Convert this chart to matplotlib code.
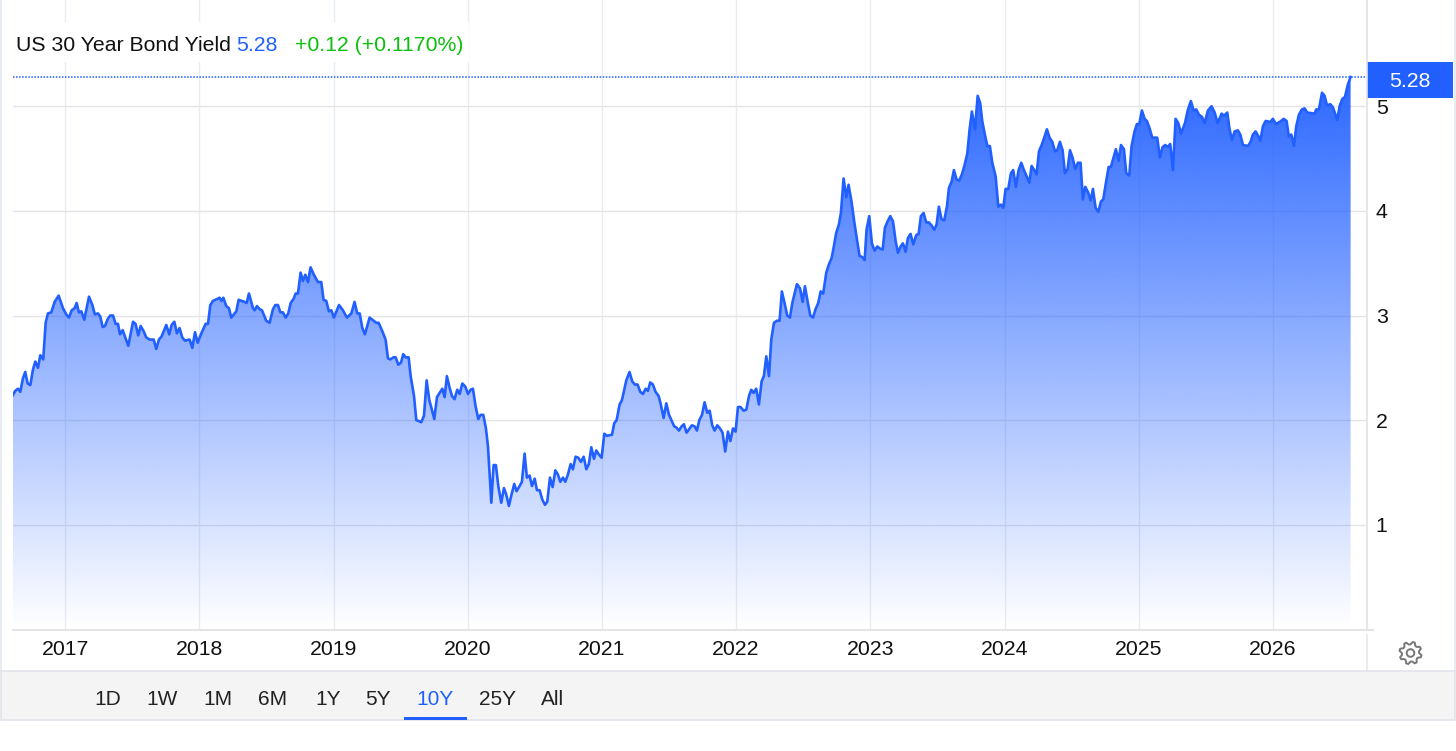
import numpy as np
import matplotlib
matplotlib.use("Agg")
import matplotlib.pyplot as plt
from matplotlib.patches import Polygon, Rectangle, Circle

plt.rcParams["font.family"] = ["Liberation Sans", "DejaVu Sans"]

# (decimal year, yield), split by stretch so it stays readable
dates_2016_2019 = [
    2016.611, 2016.629, 2016.649, 2016.666, 2016.686, 2016.703, 2016.721, 2016.741, 2016.760, 2016.778,
    2016.798, 2016.815, 2016.837, 2016.855, 2016.872, 2016.897, 2016.922, 2016.952, 2016.984, 2017.009,
    2017.029, 2017.049, 2017.071, 2017.086, 2017.103, 2017.121, 2017.143, 2017.178, 2017.203, 2017.222,
    2017.245, 2017.262, 2017.280, 2017.297, 2017.319, 2017.337, 2017.357, 2017.376, 2017.394, 2017.409,
    2017.429, 2017.451, 2017.471, 2017.506, 2017.525, 2017.545, 2017.563, 2017.585, 2017.605, 2017.630,
    2017.660, 2017.679, 2017.699, 2017.719, 2017.754, 2017.776, 2017.794, 2017.814, 2017.833, 2017.853,
    2017.873, 2017.893, 2017.928, 2017.948, 2017.968, 2017.988, 2018.012, 2018.047, 2018.065, 2018.082,
    2018.102, 2018.137, 2018.151, 2018.164, 2018.179, 2018.201, 2018.221, 2018.238, 2018.276, 2018.293,
    2018.338, 2018.353, 2018.370, 2018.400, 2018.412, 2018.430, 2018.450, 2018.467, 2018.499, 2018.524,
    2018.549, 2018.566, 2018.586, 2018.604, 2018.623, 2018.643, 2018.663, 2018.681, 2018.703, 2018.718,
    2018.735, 2018.755, 2018.772, 2018.790, 2018.810, 2018.829, 2018.854, 2018.884, 2018.909, 2018.926,
    2018.946, 2018.966, 2018.984, 2019.003, 2019.041, 2019.070, 2019.100, 2019.133, 2019.157, 2019.177,
    2019.195, 2019.215, 2019.234, 2019.269, 2019.299, 2019.319, 2019.336, 2019.364, 2019.388, 2019.406,
    2019.423, 2019.448, 2019.463, 2019.483, 2019.503, 2019.520, 2019.538, 2019.560, 2019.575, 2019.600,
    2019.617, 2019.637, 2019.654, 2019.674, 2019.694, 2019.714, 2019.731, 2019.751, 2019.771, 2019.791,
    2019.811, 2019.828, 2019.845,
]
yields_2016_2019 = [
    2.24, 2.28, 2.30, 2.27, 2.40, 2.46, 2.35, 2.335, 2.48, 2.56,
    2.50, 2.62, 2.58, 2.93, 3.02, 3.03, 3.13, 3.19, 3.07, 3.01,
    2.98, 3.05, 3.07, 3.12, 3.03, 3.04, 2.96, 3.18, 3.10, 3.01,
    3.02, 2.99, 2.89, 2.90, 2.97, 3.00, 3.00, 2.92, 2.92, 2.82,
    2.86, 2.78, 2.71, 2.94, 2.92, 2.81, 2.90, 2.85, 2.79, 2.77,
    2.77, 2.68, 2.77, 2.80, 2.91, 2.82, 2.91, 2.94, 2.83, 2.88,
    2.79, 2.76, 2.77, 2.69, 2.84, 2.74, 2.82, 2.92, 2.92, 3.10,
    3.14, 3.16, 3.17, 3.14, 3.17, 3.09, 3.07, 2.98, 3.04, 3.15,
    3.13, 3.12, 3.21, 3.07, 3.05, 3.09, 3.06, 3.05, 2.95, 2.93,
    3.06, 3.10, 3.10, 3.03, 3.03, 2.98, 3.02, 3.12, 3.16, 3.21,
    3.21, 3.41, 3.33, 3.39, 3.32, 3.46, 3.39, 3.32, 3.32, 3.15,
    3.14, 3.04, 3.05, 2.98, 3.10, 3.05, 2.98, 3.02, 3.13, 3.02,
    3.02, 2.88, 2.82, 2.98, 2.95, 2.93, 2.93, 2.85, 2.77, 2.59,
    2.58, 2.60, 2.60, 2.53, 2.55, 2.63, 2.60, 2.60, 2.42, 2.23,
    2.00, 1.99, 1.98, 2.04, 2.38, 2.19, 2.11, 2.01, 2.22, 2.26,
    2.30, 2.22, 2.42,
]

dates_2020_2021 = [
    2019.865, 2019.883, 2019.902, 2019.922, 2019.940, 2019.960, 2019.982, 2020.002, 2020.022, 2020.039,
    2020.059, 2020.079, 2020.096, 2020.116, 2020.136, 2020.151, 2020.163, 2020.176, 2020.193, 2020.210,
    2020.228, 2020.250, 2020.270, 2020.287, 2020.307, 2020.327, 2020.347, 2020.364, 2020.387, 2020.404,
    2020.424, 2020.441, 2020.461, 2020.479, 2020.499, 2020.516, 2020.536, 2020.556, 2020.576, 2020.593,
    2020.613, 2020.633, 2020.653, 2020.672, 2020.690, 2020.710, 2020.727, 2020.747, 2020.767, 2020.784,
    2020.804, 2020.824, 2020.844, 2020.864, 2020.884, 2020.903, 2020.921, 2020.941, 2020.958, 2020.978,
    2020.998, 2021.018, 2021.038, 2021.075, 2021.092, 2021.110, 2021.132, 2021.149, 2021.182, 2021.206,
    2021.226, 2021.246, 2021.266, 2021.286, 2021.306, 2021.326, 2021.343, 2021.360, 2021.380, 2021.400,
    2021.423, 2021.437, 2021.460, 2021.480, 2021.500, 2021.539, 2021.554, 2021.574, 2021.594, 2021.611,
    2021.631, 2021.654, 2021.671, 2021.691, 2021.708, 2021.726, 2021.746, 2021.765, 2021.785, 2021.803,
    2021.822, 2021.840, 2021.860, 2021.880, 2021.899, 2021.919, 2021.939, 2021.957, 2021.977, 2021.996,
]
yields_2020_2021 = [
    2.31, 2.23, 2.20, 2.29, 2.25, 2.35, 2.32, 2.25, 2.29, 2.30,
    2.13, 2.01, 2.05, 2.05, 1.92, 1.75, 1.49, 1.21, 1.57, 1.57,
    1.37, 1.21, 1.35, 1.29, 1.18, 1.29, 1.39, 1.32, 1.37, 1.41,
    1.68, 1.45, 1.47, 1.37, 1.44, 1.33, 1.33, 1.24, 1.19, 1.22,
    1.45, 1.36, 1.52, 1.48, 1.41, 1.45, 1.41, 1.48, 1.58, 1.53,
    1.65, 1.64, 1.60, 1.65, 1.53, 1.58, 1.74, 1.63, 1.71, 1.67,
    1.64, 1.87, 1.85, 1.86, 1.97, 2.00, 2.15, 2.19, 2.38, 2.46,
    2.37, 2.34, 2.34, 2.27, 2.25, 2.30, 2.28, 2.36, 2.34, 2.27,
    2.23, 2.16, 2.02, 2.16, 2.05, 1.94, 1.93, 1.90, 1.94, 1.96,
    1.88, 1.92, 1.95, 1.94, 1.90, 2.00, 2.05, 2.17, 2.07, 2.09,
    1.95, 1.90, 1.95, 1.92, 1.88, 1.70, 1.89, 1.80, 1.92, 1.89,
]

dates_2022_2024 = [
    2022.014, 2022.033, 2022.056, 2022.076, 2022.096, 2022.113, 2022.130, 2022.150, 2022.170, 2022.190,
    2022.207, 2022.225, 2022.245, 2022.262, 2022.282, 2022.304, 2022.324, 2022.341, 2022.361, 2022.381,
    2022.401, 2022.419, 2022.453, 2022.476, 2022.496, 2022.513, 2022.535, 2022.553, 2022.573, 2022.592,
    2022.612, 2022.630, 2022.649, 2022.672, 2022.692, 2022.712, 2022.727, 2022.746, 2022.766, 2022.781,
    2022.801, 2022.821, 2022.838, 2022.861, 2022.880, 2022.900, 2022.920, 2022.938, 2022.958, 2022.972,
    2022.992, 2023.012, 2023.032, 2023.052, 2023.072, 2023.092, 2023.109, 2023.129, 2023.149, 2023.169,
    2023.189, 2023.206, 2023.226, 2023.243, 2023.263, 2023.280, 2023.300, 2023.320, 2023.343, 2023.360,
    2023.377, 2023.397, 2023.417, 2023.437, 2023.457, 2023.477, 2023.494, 2023.511, 2023.531, 2023.551,
    2023.571, 2023.586, 2023.606, 2023.623, 2023.643, 2023.663, 2023.683, 2023.703, 2023.723, 2023.740,
    2023.757, 2023.780, 2023.800, 2023.819, 2023.834, 2023.852, 2023.872, 2023.891, 2023.909, 2023.934,
    2023.954, 2023.973, 2023.991, 2024.008, 2024.028, 2024.048, 2024.065, 2024.085, 2024.105, 2024.125,
    2024.145, 2024.165, 2024.185, 2024.202, 2024.222, 2024.239, 2024.257, 2024.277, 2024.296,
]
yields_2022_2024 = [
    2.125, 2.125, 2.09, 2.10, 2.23, 2.29, 2.26, 2.30, 2.15, 2.37,
    2.42, 2.61, 2.42, 2.77, 2.93, 2.95, 2.95, 3.23, 3.12, 3.00,
    2.98, 3.12, 3.30, 3.26, 3.13, 3.28, 3.12, 3.00, 2.98, 3.06,
    3.12, 3.23, 3.21, 3.41, 3.49, 3.55, 3.65, 3.79, 3.87, 3.98,
    4.31, 4.13, 4.25, 4.08, 3.90, 3.73, 3.57, 3.56, 3.53, 3.82,
    3.95, 3.69, 3.62, 3.66, 3.64, 3.63, 3.84, 3.90, 3.95, 3.90,
    3.71, 3.60, 3.66, 3.69, 3.61, 3.74, 3.78, 3.68, 3.77, 3.78,
    3.95, 3.98, 3.89, 3.89, 3.86, 3.82, 3.87, 4.04, 3.92, 3.91,
    4.04, 4.22, 4.28, 4.39, 4.30, 4.29, 4.35, 4.44, 4.55, 4.78,
    4.95, 4.78, 5.10, 5.03, 4.86, 4.74, 4.62, 4.62, 4.46, 4.33,
    4.04, 4.06, 4.03, 4.21, 4.21, 4.36, 4.39, 4.23, 4.39, 4.46,
    4.39, 4.33, 4.27, 4.43, 4.39, 4.35, 4.57, 4.63, 4.70,
]

dates_2024_2026 = [
    2024.316, 2024.336, 2024.356, 2024.376, 2024.393, 2024.413, 2024.433, 2024.450, 2024.470, 2024.488,
    2024.507, 2024.527, 2024.547, 2024.567, 2024.584, 2024.602, 2024.622, 2024.642, 2024.659, 2024.679,
    2024.699, 2024.719, 2024.736, 2024.756, 2024.776, 2024.793, 2024.813, 2024.830, 2024.850, 2024.868,
    2024.890, 2024.907, 2024.930, 2024.947, 2024.969, 2024.987, 2025.004, 2025.024, 2025.044, 2025.061,
    2025.081, 2025.101, 2025.138, 2025.158, 2025.178, 2025.198, 2025.218, 2025.235, 2025.255, 2025.275,
    2025.295, 2025.315, 2025.345, 2025.367, 2025.389, 2025.409, 2025.429, 2025.449, 2025.471, 2025.491,
    2025.516, 2025.543, 2025.566, 2025.588, 2025.618, 2025.635, 2025.660, 2025.677, 2025.695, 2025.715,
    2025.739, 2025.757, 2025.777, 2025.814, 2025.834, 2025.851, 2025.871, 2025.889, 2025.906, 2025.926,
    2025.946, 2025.980, 2026.000, 2026.023, 2026.062, 2026.080, 2026.102, 2026.119, 2026.137, 2026.157,
    2026.174, 2026.194, 2026.216, 2026.236, 2026.256, 2026.311, 2026.323, 2026.343, 2026.366, 2026.385,
    2026.403, 2026.428, 2026.447, 2026.480, 2026.497, 2026.517, 2026.537, 2026.559, 2026.579,
]
yields_2024_2026 = [
    4.78, 4.70, 4.66, 4.57, 4.58, 4.66, 4.58, 4.36, 4.40, 4.58,
    4.51, 4.40, 4.46, 4.46, 4.11, 4.23, 4.18, 4.10, 4.21, 4.03,
    3.99, 4.09, 4.11, 4.27, 4.42, 4.42, 4.51, 4.59, 4.48, 4.63,
    4.59, 4.36, 4.34, 4.62, 4.76, 4.83, 4.83, 4.96, 4.88, 4.86,
    4.79, 4.70, 4.70, 4.51, 4.61, 4.63, 4.61, 4.64, 4.39, 4.88,
    4.84, 4.74, 4.84, 4.97, 5.05, 4.96, 4.97, 4.92, 4.90, 4.84,
    4.96, 5.00, 4.94, 4.84, 4.93, 4.91, 4.94, 4.78, 4.68, 4.76,
    4.77, 4.73, 4.63, 4.62, 4.66, 4.73, 4.76, 4.72, 4.67, 4.81,
    4.86, 4.85, 4.88, 4.83, 4.86, 4.88, 4.86, 4.71, 4.73, 4.62,
    4.81, 4.92, 4.97, 4.98, 4.94, 4.93, 4.97, 4.97, 5.13, 5.10,
    5.01, 5.02, 4.99, 4.87, 5.00, 5.07, 5.09, 5.21, 5.28,
]

year_ticks = list(range(2017, 2027))
yield_ticks = [1, 2, 3, 4, 5]
range_buttons = ["1D", "1W", "1M", "6M", "1Y", "5Y", "10Y", "25Y", "All"]
range_centers = [108, 162, 218, 273, 328, 378, 435, 497, 553]
last_value = 5.28

BLUE = "#2160ff"
FS = 15.3
W, H = 1456, 751

dates = np.array(dates_2016_2019 + dates_2020_2021 + dates_2022_2024 + dates_2024_2026)
yields = np.array(yields_2016_2019 + yields_2020_2021 + yields_2022_2024 + yields_2024_2026)

fig = plt.figure(figsize=(W / 100, H / 100), dpi=100, facecolor="white")

# main plot area, pixel box 13..1366 across and 0..630 down
ax = fig.add_axes([13 / W, 1 - 630 / H, (1366 - 13) / W, 630 / H])
x0 = 2017 + (13 - 65.1) / 134.2
x1 = 2017 + (1366 - 65.1) / 134.2
y0 = -0.7 / 104.6
y1 = 629.3 / 104.6
ax.set_xlim(x0, x1)
ax.set_ylim(y0, y1)

ax.set_axisbelow(True)
ax.set_xticks(year_ticks)
ax.set_yticks(yield_ticks)
ax.grid(axis="x", color="#e8edf4", lw=1.0)
ax.grid(axis="y", color="#e4e4e4", lw=1.0)
ax.yaxis.tick_right()
ax.tick_params(axis="both", length=0, labelsize=FS, labelcolor="#111111")
ax.tick_params(axis="x", pad=7.5)
ax.tick_params(axis="y", pad=7)
for name, spine in ax.spines.items():
    spine.set_visible(False)

# gradient fill under the line, fades to nothing at zero
grad = np.zeros((256, 2, 4))
grad[..., :3] = matplotlib.colors.to_rgb(BLUE)
grad[..., 3] = np.linspace(0.98, 0.0, 256)[:, None]
img = ax.imshow(grad, extent=[x0, x1, 0, 5.4], aspect="auto", origin="upper", zorder=2, interpolation="bilinear")
ax.set_xlim(x0, x1)
ax.set_ylim(y0, y1)
clip = Polygon(np.column_stack([np.r_[dates[0], dates, dates[-1]], np.r_[0, yields, 0]]),
               transform=ax.transData, facecolor="none", edgecolor="none")
ax.add_patch(clip)
img.set_clip_path(clip)

ax.plot(dates, yields, color=BLUE, lw=1.9, zorder=3, solid_joinstyle="round")
ax.axhline(last_value, color=BLUE, lw=1.1, ls=(0, (1, 1)), zorder=3)

# everything around the plot, in pixel coordinates
ov = fig.add_axes([0, 0, 1, 1], facecolor="none")
ov.set_xlim(0, W)
ov.set_ylim(H, 0)
ov.axis("off")

ov.add_patch(Rectangle((13, 22), 456, 40, color="white", lw=0, zorder=1))
ov.text(16, 45.5, "US 30 Year Bond Yield", fontsize=FS, color="#111111", va="center", zorder=2)
ov.text(236, 45.5, "5.28", fontsize=FS, color=BLUE, va="center", zorder=2)
ov.text(295, 45.5, "+0.12 (+0.1170%)", fontsize=FS, color="#0bbf0b", va="center", zorder=2)

# frame
ov.plot([1, 1], [0, 671], color="#e3e8f0", lw=1.2)
ov.plot([1454.5, 1454.5], [0, 671], color="#e3e8f0", lw=1.2)
ov.plot([1366.5, 1366.5], [0, 630], color="#e2e2e2", lw=1.2)
ov.plot([1367, 1367], [635, 671], color="#e8e8e8", lw=1.2)
ov.plot([13, 1373], [630, 630], color="#e4e4e4", lw=1.4)

# last value tag
ov.add_patch(Rectangle((1367, 62), 86, 36, color=BLUE, lw=0))
ov.text(1410, 81.5, f"{last_value:.2f}", color="white", fontsize=FS, ha="center", va="center")

# range selector strip
ov.add_patch(Rectangle((1, 671), 1453.5, 49, facecolor="#f4f4f4", edgecolor="#e1e4ea", lw=1.2))
for label, cx in zip(range_buttons, range_centers):
    color = BLUE if label == "10Y" else "#222222"
    ov.text(cx, 699.5, label, color=color, fontsize=FS - 0.3, ha="center", va="center")
ov.add_patch(Rectangle((404, 717), 63, 2.5, color=BLUE, lw=0))

# settings gear
n = 8
angles = np.linspace(0, 2 * np.pi, n * 4, endpoint=False) + np.pi / 8 - np.pi / 16
radii = np.tile([11.2, 11.2, 8.6, 8.6], n)
gear = np.column_stack([1410.5 + radii * np.cos(angles), 653 + radii * np.sin(angles)])
ov.add_patch(Polygon(gear, closed=True, facecolor="none", edgecolor="#777777", lw=1.4, joinstyle="round"))
ov.add_patch(Circle((1410.5, 653), 3.8, facecolor="none", edgecolor="#777777", lw=1.4))

fig.savefig("out.png", dpi=100)
